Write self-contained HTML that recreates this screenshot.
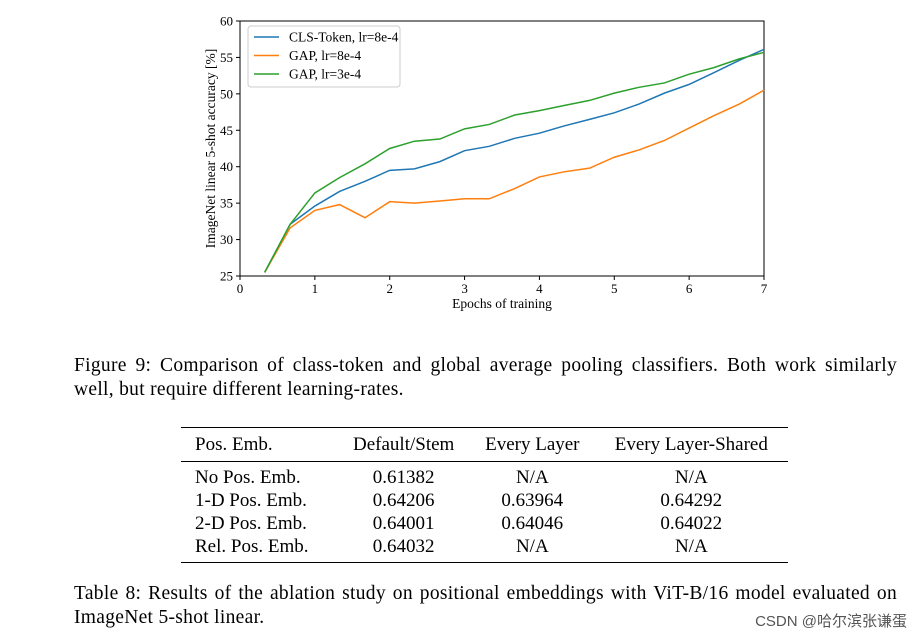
<!DOCTYPE html>
<html><head><meta charset="utf-8"><style>
body{margin:0;background:#fff;width:921px;height:641px;overflow:hidden;position:relative;font-family:"Liberation Serif",serif;color:#000}
.cap{position:absolute;left:74px;font-size:19.5px;line-height:23.5px;width:823px;letter-spacing:0.3px}
.cap span{display:block}
.cap .j{text-align:justify;text-align-last:justify;white-space:nowrap}
table{position:absolute;left:181px;top:427px;width:607px;border-collapse:collapse;font-size:19px}
td,th{font-weight:normal;padding:0 6px;line-height:23px}
.wm{position:absolute;right:14px;bottom:10px;font-family:"Liberation Sans","Noto Sans CJK SC",sans-serif;font-size:15px;color:#555}
</style></head><body>
<svg width="921" height="330" style="position:absolute;left:0;top:0" font-family="Liberation Serif, serif">
<g id="plot"></g>
</svg>
<div class="cap" style="top:354px"><span class="j">Figure 9: Comparison of class-token and global average pooling classifiers. Both work similarly</span><span>well, but require different learning-rates.</span></div>
<table>
<tr style="border-top:1.5px solid #000;border-bottom:1px solid #000"><td style="padding:5px 6px 5px 14px;text-align:left">Pos. Emb.</td><td style="text-align:center">Default/Stem</td><td style="text-align:center">Every Layer</td><td style="text-align:center">Every Layer-Shared</td></tr>
<tr><td style="padding-left:14px;padding-top:4px">No Pos. Emb.</td><td style="text-align:center;padding-top:4px">0.61382</td><td style="text-align:center;padding-top:4px">N/A</td><td style="text-align:center;padding-top:4px">N/A</td></tr>
<tr><td style="padding-left:14px">1-D Pos. Emb.</td><td style="text-align:center">0.64206</td><td style="text-align:center">0.63964</td><td style="text-align:center">0.64292</td></tr>
<tr><td style="padding-left:14px">2-D Pos. Emb.</td><td style="text-align:center">0.64001</td><td style="text-align:center">0.64046</td><td style="text-align:center">0.64022</td></tr>
<tr style="border-bottom:1.5px solid #000"><td style="padding-left:14px;padding-bottom:4px">Rel. Pos. Emb.</td><td style="text-align:center;padding-bottom:4px">0.64032</td><td style="text-align:center;padding-bottom:4px">N/A</td><td style="text-align:center;padding-bottom:4px">N/A</td></tr>
</table>
<div class="cap" style="top:582px"><span class="j">Table 8: Results of the ablation study on positional embeddings with ViT-B/16 model evaluated on</span><span>ImageNet 5-shot linear.</span></div>
<div class="wm">CSDN @哈尔滨张谦蛋</div>
<script>
const epochs=[0.33,0.67,1,1.33,1.67,2,2.33,2.67,3,3.33,3.67,4,4.33,4.67,5,5.33,5.67,6,6.33,6.67,7];
const clsToken=[25.5,32.1,34.6,36.6,38.0,39.5,39.7,40.7,42.2,42.8,43.9,44.6,45.6,46.5,47.4,48.6,50.1,51.3,52.9,54.6,56.1];
const gap8=[25.5,31.6,34.0,34.8,33.0,35.2,35.0,35.3,35.6,35.6,37.0,38.6,39.3,39.8,41.3,42.3,43.6,45.3,47.0,48.6,50.5];
const gap3=[25.5,32.1,36.4,38.5,40.4,42.5,43.5,43.8,45.2,45.8,47.1,47.7,48.4,49.1,50.1,50.9,51.5,52.7,53.6,54.8,55.7];
const xTicks=[0,1,2,3,4,5,6,7];
const yTicks=[25,30,35,40,45,50,55,60];
const seriesNames=["CLS-Token, lr=8e-4","GAP, lr=8e-4","GAP, lr=3e-4"];
const L=240,R=764,T=21,B=276;
const xs=v=>L+(v-0)/7*(R-L);
const ys=v=>B-(v-25)/35*(B-T);
const g=document.getElementById('plot');
const NS='http://www.w3.org/2000/svg';
function mk(t,a,p){const e=document.createElementNS(NS,t);for(const k in a)e.setAttribute(k,a[k]);(p||g).appendChild(e);return e;}
const frame=mk('rect',{x:L,y:T,width:R-L,height:B-T,fill:'none',stroke:'#000','stroke-width':1});


xTicks.forEach(t=>{
  const l=mk('line',{x1:xs(t),x2:xs(t),y1:B,y2:B+4,stroke:'#000'});
  
  
  const tx=mk('text',{x:xs(t),y:B+17,'text-anchor':'middle','font-size':13});tx.textContent=t;
  
  
});
yTicks.forEach(t=>{
  const l=mk('line',{x1:L-4,x2:L,y1:ys(t),y2:ys(t),stroke:'#000'});
  
  
  const tx=mk('text',{x:L-7,y:ys(t)+4.5,'text-anchor':'end','font-size':13});tx.textContent=t;
  
  
});
const xl=mk('text',{x:(L+R)/2,y:B+32,'text-anchor':'middle','font-size':13.5});xl.textContent='Epochs of training';


const yl=mk('text',{x:0,y:0,'text-anchor':'middle','font-size':13.5,transform:`translate(215,${(T+B)/2}) rotate(-90)`});yl.textContent='ImageNet linear 5-shot accuracy [%]';


const colors=['#1f77b4','#ff7f0e','#2ca02c'];
[clsToken,gap8,gap3].forEach((s,i)=>{
  const p=mk('polyline',{points:s.map((v,j)=>xs(epochs[j])+','+ys(v)).join(' '),fill:'none',stroke:colors[i],'stroke-width':1.5});
  
  
});
const lg=mk('rect',{x:248,y:26,width:152,height:61,rx:3,fill:'#fff','fill-opacity':0.8,stroke:'#ccc'});


seriesNames.forEach((n,i)=>{
  const y=37+i*18.5;
  const l=mk('line',{x1:254,x2:279,y1:y,y2:y,stroke:colors[i],'stroke-width':1.5});
  
  
  const t=mk('text',{x:289,y:y+4.5,'font-size':13.5});t.textContent=n;
  
  
});
</script>
</body></html>
